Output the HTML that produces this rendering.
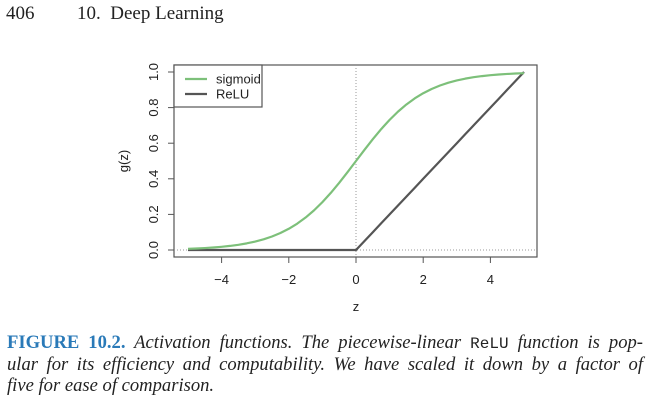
<!DOCTYPE html>
<html><head><meta charset="utf-8"><style>
body{margin:0;width:654px;height:400px;background:#fff;position:relative;overflow:hidden;font-family:"Liberation Serif",serif}
.hdr{position:absolute;top:3px;font-size:19px;color:#222}
.cap{position:absolute;left:7px;width:636px;font-size:18.6px;font-style:italic;color:#222;line-height:21px;text-align:justify;text-align-last:justify;white-space:nowrap}
.fig{color:#2a7ab8;font-weight:bold;font-style:normal}
.mono{font-family:"Liberation Mono",monospace;font-style:normal;font-size:16px}
</style></head><body>
<div class="hdr" style="left:6px">406</div>
<div class="hdr" style="left:77px">10.&nbsp; Deep Learning</div>
<svg id="chart" width="654" height="330" style="position:absolute;left:0;top:0"></svg>
<div class="cap" style="top:332px"><span class="fig">FIGURE 10.2.</span> Activation functions. The piecewise-linear <span class="mono">ReLU</span> function is pop-</div>
<div class="cap" style="top:354px">ular for its efficiency and computability. We have scaled it down by a factor of</div>
<div class="cap" style="top:375px;text-align-last:left">five for ease of comparison.</div>
<script>
const zVals=[-5,-4.75,-4.5,-4.25,-4,-3.75,-3.5,-3.25,-3,-2.75,-2.5,-2.25,-2,-1.75,-1.5,-1.25,-1,-0.75,-0.5,-0.25,0,0.25,0.5,0.75,1,1.25,1.5,1.75,2,2.25,2.5,2.75,3,3.25,3.5,3.75,4,4.25,4.5,4.75,5];
const sigmoidVals=[0.0067,0.0086,0.011,0.014,0.018,0.023,0.0293,0.0373,0.0474,0.0601,0.0759,0.0953,0.1192,0.148,0.1824,0.2227,0.2689,0.3208,0.3775,0.4378,0.5,0.5622,0.6225,0.6792,0.7311,0.7773,0.8176,0.852,0.8808,0.9047,0.9241,0.9399,0.9526,0.9627,0.9707,0.977,0.982,0.986,0.989,0.9914,0.9933];
const reluVals=[0,0,0,0,0,0,0,0,0,0,0,0,0,0,0,0,0,0,0,0,0,0.05,0.1,0.15,0.2,0.25,0.3,0.35,0.4,0.45,0.5,0.55,0.6,0.65,0.7,0.75,0.8,0.85,0.9,0.95,1.0];
const xTicks=[-4,-2,0,2,4];
const yTicks=[0,0.2,0.4,0.6,0.8,1.0];
const NS="http://www.w3.org/2000/svg";
const svg=document.getElementById('chart');
const X=v=>356+v*33.6, Y=v=>250-v*178;
function mk(t,a,p){const e=document.createElementNS(NS,t);for(const k in a)e.setAttribute(k,a[k]);(p||svg).appendChild(e);return e;}
let e;
e=mk('rect',{x:174,y:65,width:363,height:192,fill:'none',stroke:'#555','stroke-width':1.2});


e=mk('line',{x1:X(0),x2:X(0),y1:65,y2:257,stroke:'#999','stroke-dasharray':'1,2'});


e=mk('line',{x1:174,x2:537,y1:Y(0),y2:Y(0),stroke:'#999','stroke-dasharray':'1,2'});


xTicks.forEach(t=>{
 e=mk('line',{x1:X(t),x2:X(t),y1:257,y2:263,stroke:'#555'});
 
 
 e=mk('text',{x:X(t),y:284,'text-anchor':'middle','font-size':13,'font-family':'Liberation Sans, sans-serif',fill:'#222'});
 e.textContent=(t<0?'\u2212'+(-t):t);
 
 
});
yTicks.forEach(t=>{
 e=mk('line',{x1:168,x2:174,y1:Y(t),y2:Y(t),stroke:'#555'});
 
 
 e=mk('text',{x:0,y:0,transform:`translate(158,${Y(t)}) rotate(-90)`,'text-anchor':'middle','font-size':13,'font-family':'Liberation Sans, sans-serif',fill:'#222'});
 e.textContent=t.toFixed(1);
 
 
});
e=mk('text',{x:356,y:311,'text-anchor':'middle','font-size':13,'font-family':'Liberation Sans, sans-serif',fill:'#222'});
e.textContent='z';


e=mk('text',{x:0,y:0,transform:'translate(128,161) rotate(-90)','text-anchor':'middle','font-size':13,'font-family':'Liberation Sans, sans-serif',fill:'#222'});
e.textContent='g(z)';


e=mk('polyline',{points:zVals.map((z,i)=>X(z)+','+Y(reluVals[i])).join(' '),fill:'none',stroke:'#555','stroke-width':2.2});


let d='';zVals.forEach((z,i)=>{d+=(i?'L':'M')+X(z)+','+Y(sigmoidVals[i]);});
e=mk('path',{d:d,fill:'none',stroke:'#7dc07a','stroke-width':2.2,'stroke-linejoin':'round'});


const g=mk('g',{});


mk('rect',{x:174,y:65,width:88,height:42,fill:'#fff',stroke:'#555','stroke-width':1.2},g);
e=mk('line',{x1:185,x2:207,y1:79,y2:79,stroke:'#7dc07a','stroke-width':2.2},g);


e=mk('text',{x:216,y:83.5,'font-size':13,'font-family':'Liberation Sans, sans-serif',fill:'#222'},g);e.textContent='sigmoid';
e=mk('line',{x1:185,x2:207,y1:94,y2:94,stroke:'#555','stroke-width':2.2},g);


e=mk('text',{x:216,y:98.5,'font-size':13,'font-family':'Liberation Sans, sans-serif',fill:'#222'},g);e.textContent='ReLU';
</script>
</body></html>
